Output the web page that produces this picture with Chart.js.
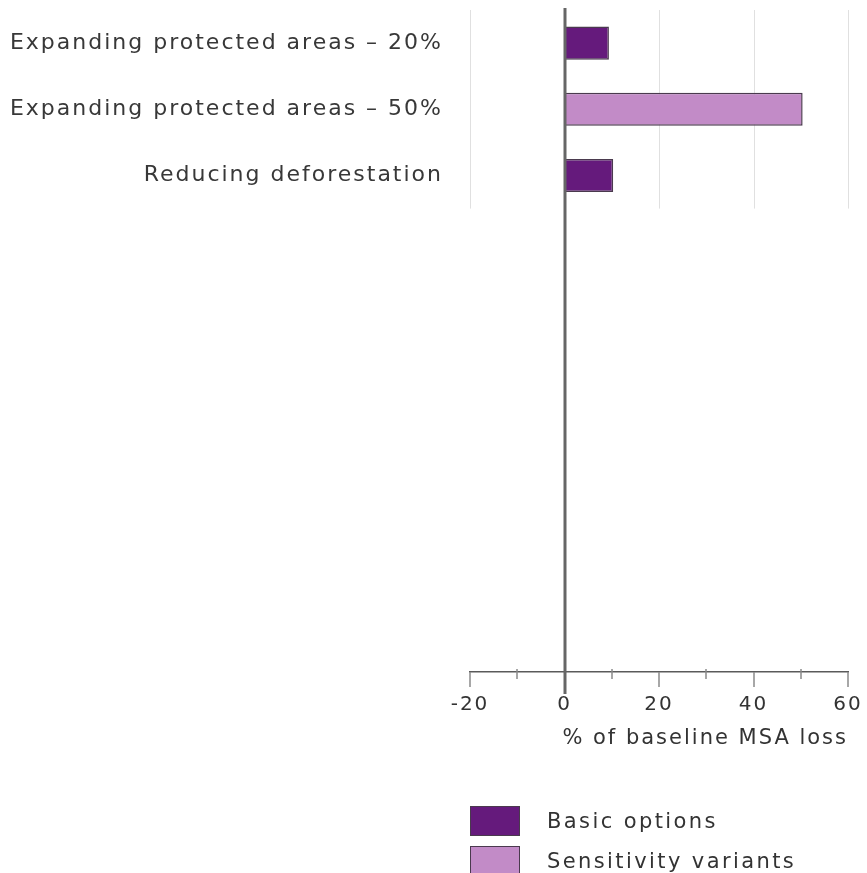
<!DOCTYPE html>
<html>
<head>
<meta charset="utf-8">
<title>% of baseline MSA loss</title>
<script src="https://cdn.jsdelivr.net/npm/chart.js@4.4.0/dist/chart.umd.min.js"></script>
<style>
  body { margin: 0; background: #fff; }
  #wrap { position: relative; width: 867px; height: 873px; overflow: hidden; }
  #legend {
    position: absolute; left: 470px; top: 801px;
    font-family: "DejaVu Sans", sans-serif; font-size: 21px; letter-spacing: 2.4px; color: #333;
  }
  .item { display: flex; align-items: center; height: 40px; }
  .box { width: 48px; height: 28px; border: 1px solid #4a3a4e; margin-right: 27px; }
</style>
</head>
<body>
<div id="wrap">
  <canvas id="chart" width="867" height="873"></canvas>
  <div id="legend"></div>
</div>
<script>
// datos del gráfico
const categorias = [
  "Expanding protected areas – 20%",
  "Expanding protected areas – 50%",
  "Reducing deforestation",
  "", "", "", "", "", "", ""
];
const opcionesBasicas = [9.4, null, 10.3];
const variantesSensibilidad = [null, 50.4, null];
const marcasX = [-20, 0, 20, 40, 60];
const marcasMenores = [-10, 10, 30, 50];
const tituloX = "% of baseline MSA loss";

const colorBasico = "#651a7c";
const colorSensibilidad = "#c28bc7";
const colorBorde = "#4a3a4e";
const fuente = "DejaVu Sans";

// rejilla solo en la zona de las barras, linea del cero y marcas del eje
const rejillaParcial = {
  id: "rejillaParcial",
  beforeDraw(chart) {
    // la fuente original es mas ancha
    chart.ctx.letterSpacing = "2px";
  },
  beforeDatasetsDraw(chart) {
    const { ctx, scales: { x, y }, chartArea } = chart;
    const fondo = y.getPixelForValue(2.5);
    ctx.save();
    ctx.strokeStyle = "#e0e0e0";
    ctx.lineWidth = 1;
    marcasX.forEach((v) => {
      if (v === 0) return;
      const px = Math.round(x.getPixelForValue(v)) + 0.5;
      ctx.beginPath();
      ctx.moveTo(px, chartArea.top);
      ctx.lineTo(px, fondo);
      ctx.stroke();
    });
    ctx.restore();
  },
  afterDatasetsDraw(chart) {
    const { ctx, scales: { x }, chartArea } = chart;
    const base = chartArea.bottom;
    ctx.save();
    // marcas del eje x
    ctx.strokeStyle = "#8a8a8a";
    ctx.lineWidth = 1.5;
    marcasX.forEach((v) => {
      const px = Math.round(x.getPixelForValue(v));
      ctx.beginPath();
      ctx.moveTo(px, base);
      ctx.lineTo(px, base + 15);
      ctx.stroke();
    });
    marcasMenores.forEach((v) => {
      const px = Math.round(x.getPixelForValue(v));
      ctx.beginPath();
      ctx.moveTo(px, base - 3);
      ctx.lineTo(px, base + 7);
      ctx.stroke();
    });
    // linea del cero
    const cero = Math.round(x.getPixelForValue(0));
    ctx.strokeStyle = "#666";
    ctx.lineWidth = 3;
    ctx.beginPath();
    ctx.moveTo(cero, chartArea.top - 2);
    ctx.lineTo(cero, base + 22);
    ctx.stroke();
    ctx.restore();
  }
};

const chart = new Chart(document.getElementById("chart"), {
  type: "bar",
  data: {
    labels: categorias,
    datasets: [
      {
        label: "Basic options",
        data: opcionesBasicas,
        backgroundColor: colorBasico,
        borderColor: colorBorde,
        borderWidth: 1.5,
        borderSkipped: false,
      },
      {
        label: "Sensitivity variants",
        data: variantesSensibilidad,
        backgroundColor: colorSensibilidad,
        borderColor: colorBorde,
        borderWidth: 1.5,
        borderSkipped: false,
      },
    ],
  },
  options: {
    indexAxis: "y",
    responsive: false,
    animation: false,
    barPercentage: 0.5,
    categoryPercentage: 1.0,
    layout: { padding: { top: 10, right: 19, left: 0, bottom: 122 } },
    plugins: { legend: { display: false }, tooltip: { enabled: false } },
    scales: {
      x: {
        stacked: true,
        min: -20,
        max: 60,
        afterBuildTicks: (scale) => {
          scale.ticks = marcasX.map((v) => ({ value: v }));
        },
        afterFit: (scale) => {
          scale.height = 79;
          scale.paddingLeft = 0;
          scale.paddingRight = 0;
        },
        grid: { display: false, drawTicks: false },
        border: { display: true, color: "#5a5a5a", width: 1.5 },
        ticks: {
          padding: 21,
          color: "#333",
          font: { family: fuente, size: 20 },
        },
        title: {
          display: true,
          text: tituloX,
          align: "end",
          color: "#333",
          padding: { top: 10, bottom: 0 },
          font: { family: fuente, size: 21 },
        },
      },
      y: {
        stacked: true,
        grid: { display: false, drawTicks: false },
        border: { display: false },
        ticks: {
          autoSkip: false,
          padding: 27,
          color: "#383838",
          font: { family: fuente, size: 22 },
        },
        afterFit: (scale) => {
          scale.width = 470;
          scale.paddingTop = 0;
          scale.paddingBottom = 0;
        },
      },
    },
  },
  plugins: [rejillaParcial],
});

// leyenda en html a partir de los datasets
const leyenda = document.getElementById("legend");
chart.data.datasets.forEach((ds) => {
  const item = document.createElement("div");
  item.className = "item";
  item.innerHTML = `<span class="box" style="background:${ds.backgroundColor}"></span><span>${ds.label}</span>`;
  leyenda.appendChild(item);
});
</script>
</body>
</html>
